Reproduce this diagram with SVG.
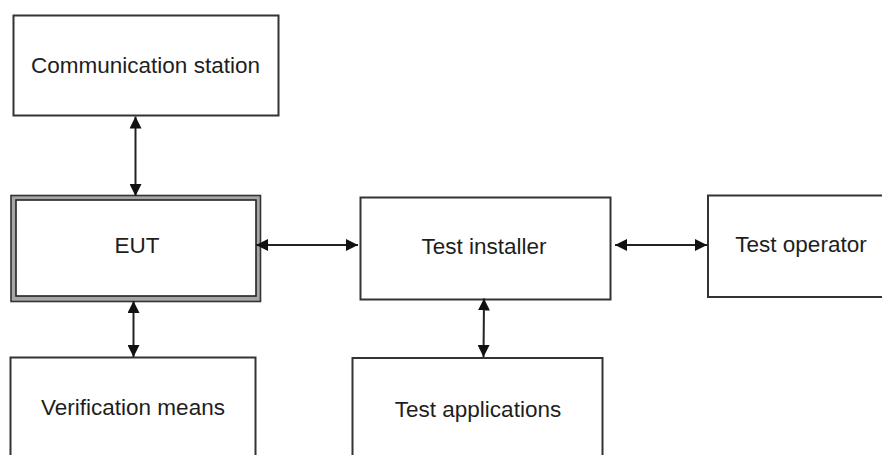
<svg xmlns="http://www.w3.org/2000/svg" width="882" height="455" viewBox="0 0 882 455">
  <style>
    .box { fill: #ffffff; stroke: #333333; stroke-width: 2; }
    .lbl { font-family: "Liberation Sans", Arial, sans-serif; font-size: 22.5px; fill: #1e1e1e; text-anchor: middle; }
    .conn { stroke: #222222; stroke-width: 2; fill: none; marker-start: url(#ah); marker-end: url(#ah); }
  </style>
  <defs>
    <marker id="ah" markerUnits="userSpaceOnUse" markerWidth="12" markerHeight="12" refX="12" refY="6" orient="auto-start-reverse" viewBox="0 0 12 12">
      <path d="M0,0 L12,6 L0,12 z" fill="#111111"/>
    </marker>
  </defs>
  <rect width="882" height="455" fill="#ffffff"/>
  <g id="communication-station">
    <rect class="box" x="13.5" y="15.5" width="265" height="100"/>
    <text class="lbl" x="145.5" y="73">Communication station</text>
  </g>
  <g id="eut">
    <rect x="11" y="195.5" width="249.5" height="106" fill="#a6a6a6" stroke="#333333" stroke-width="1.6"/>
    <rect x="16" y="200" width="240" height="96" fill="#ffffff" stroke="#222222" stroke-width="1.6"/>
    <text class="lbl" x="137" y="253">EUT</text>
  </g>
  <g id="test-installer">
    <rect class="box" x="360.5" y="197.5" width="250" height="102"/>
    <text class="lbl" x="484" y="254">Test installer</text>
  </g>
  <g id="test-operator">
    <rect class="box" x="708" y="195.5" width="190" height="101.5"/>
    <text class="lbl" x="801" y="252">Test operator</text>
  </g>
  <g id="verification-means">
    <rect class="box" x="10.5" y="357.5" width="245" height="110"/>
    <text class="lbl" x="133" y="415">Verification means</text>
  </g>
  <g id="test-applications">
    <rect class="box" x="352.5" y="358" width="250" height="110"/>
    <text class="lbl" x="478" y="417">Test applications</text>
  </g>
  <g id="connectors">
    <line class="conn" x1="135.5" y1="116.5" x2="135.5" y2="196"/>
    <line class="conn" x1="256" y1="245" x2="358" y2="245"/>
    <line class="conn" x1="615" y1="245" x2="707" y2="245"/>
    <line class="conn" x1="133.5" y1="301" x2="133.5" y2="357"/>
    <line class="conn" x1="484" y1="298.5" x2="483.5" y2="357"/>
  </g>
</svg>
